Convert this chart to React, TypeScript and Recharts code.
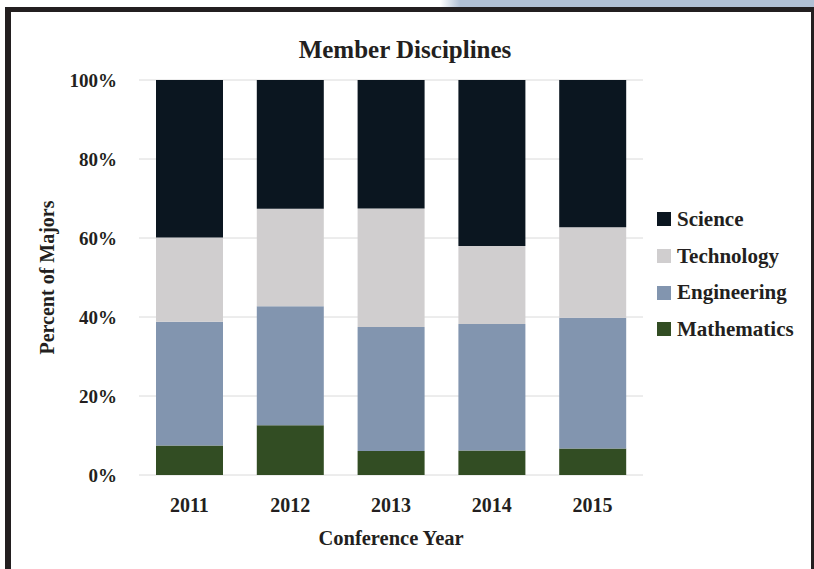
import React from 'react';
import { BarChart, Bar, XAxis, YAxis, CartesianGrid } from 'recharts';

const years = ['2011', '2012', '2013', '2014', '2015'];
const mathematics = [7.5, 12.6, 6.1, 6.2, 6.7];
const engineering = [31.3, 30.1, 31.4, 32.0, 33.1];
const technology = [21.3, 24.7, 30.0, 19.8, 22.9];
const science = [39.9, 32.6, 32.5, 42.0, 37.3];
const percentTicks = [0, 20, 40, 60, 80, 100];

// bottom to top stacking order
const series = [
  { key: 'mathematics', name: 'Mathematics', color: '#324d23', values: mathematics },
  { key: 'engineering', name: 'Engineering', color: '#8295af', values: engineering },
  { key: 'technology', name: 'Technology', color: '#d0cecf', values: technology },
  { key: 'science', name: 'Science', color: '#0b1620', values: science },
];

const data = years.map((year, i) => {
  const row: Record<string, string | number> = { year };
  series.forEach((s) => {
    row[s.key] = s.values[i];
  });
  return row;
});

const font = '"Liberation Serif", "Times New Roman", serif';
const ink = '#231f20';
const tickStyle = { fontFamily: font, fontSize: 19, fontWeight: 700, fill: ink };

const App: React.FC = () => {
  return (
    <div style={{ position: 'absolute', left: 0, top: 0, width: 814, height: 569, background: '#fff', overflow: 'hidden' }}>
      {/* page frame */}
      <div style={{ position: 'absolute', left: 440, top: 0, width: 374, height: 8, background: 'linear-gradient(to right, #ffffff 0px, #b1c0d4 20px, #b1c0d4 100%)' }} />
      <div style={{ position: 'absolute', left: 5, top: 7, width: 809, height: 5, background: ink }} />
      <div style={{ position: 'absolute', left: 5, top: 7, width: 6, height: 562, background: ink }} />
      <div style={{ position: 'absolute', left: 811, top: 7, width: 3, height: 562, background: ink }} />

      <div style={{ position: 'absolute', left: 0, top: 36, width: 810, textAlign: 'center', fontFamily: font, fontSize: 25, fontWeight: 700, color: ink }}>
        Member Disciplines
      </div>

      <div style={{ position: 'absolute', left: 0, top: 0 }}>
        <BarChart width={814} height={569} data={data} margin={{ top: 80, right: 171, bottom: 14, left: 39 }}>
          <CartesianGrid vertical={false} stroke="#dadada" />
          <XAxis
            dataKey="year"
            axisLine={false}
            tickLine={false}
            tickSize={0}
            tickMargin={23}
            height={80}
            tick={{ ...tickStyle, fontSize: 20 }}
            label={{ value: 'Conference Year', position: 'insideBottom', offset: 10, style: { ...tickStyle, fontSize: 20.5 } }}
          />
          <YAxis
            domain={[0, 100]}
            ticks={percentTicks}
            tickFormatter={(v: number) => `${v}%`}
            axisLine={false}
            tickLine={false}
            tickSize={0}
            tickMargin={22}
            width={100}
            tick={tickStyle}
            label={{ value: 'Percent of Majors', angle: -90, position: 'insideLeft', offset: 8, style: { ...tickStyle, fontSize: 20, textAnchor: 'middle' } }}
          />
          {series.map((s) => (
            <Bar key={s.key} dataKey={s.key} name={s.name} stackId="a" fill={s.color} barSize={67} isAnimationActive={false} />
          ))}
        </BarChart>
      </div>

      <div style={{ position: 'absolute', left: 657, top: 201, fontFamily: font, fontSize: 21, fontWeight: 700, color: ink }}>
        {[...series].reverse().map((s) => (
          <div key={s.key} style={{ display: 'flex', alignItems: 'center', height: 36.7 }}>
            <span style={{ display: 'inline-block', width: 14, height: 14, background: s.color, marginRight: 6 }} />
            {s.name}
          </div>
        ))}
      </div>
    </div>
  );
};

export default App;
